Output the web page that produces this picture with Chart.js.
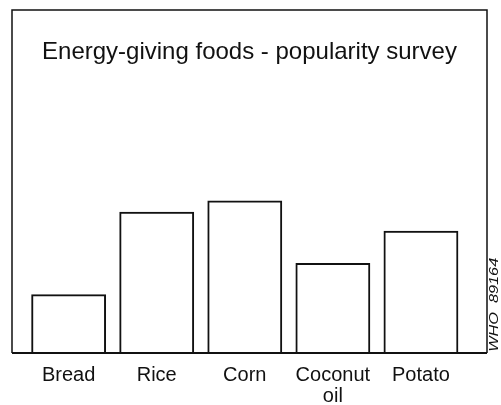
<!DOCTYPE html>
<html>
<head>
<meta charset="utf-8">
<script src="https://cdn.jsdelivr.net/npm/chart.js@4/dist/chart.umd.min.js"></script>
<style>
  html, body { margin: 0; padding: 0; background: #fff; }
  #wrap { width: 501px; height: 405px; }
</style>
</head>
<body>
<div id="wrap"><canvas id="myChart"></canvas></div>
<script>
const CATEGORIES = ['Bread', 'Rice', 'Corn', ['Coconut', 'oil'], 'Potato'];
const POSITIONS = [1, 2, 3, 4, 5];
const POPULARITY = [23.3, 56, 60.5, 35.7, 48.5];
const TITLE = 'Energy-giving foods - popularity survey';
const CODE = 'WHO  89164';

// box round the plot and the title, plus the small code on the right
const FRAME = {
    id: 'frame',
    afterDraw(chart)
    {
        const ctx = chart.ctx;
        const a = chart.chartArea;
        ctx.save();
        ctx.strokeStyle = '#111';
        ctx.lineWidth = 1.5;
        ctx.beginPath();
        ctx.moveTo(a.left, a.bottom);
        ctx.lineTo(a.left, 10);
        ctx.lineTo(a.right, 10);
        ctx.lineTo(a.right, a.bottom);
        ctx.stroke();
        ctx.lineWidth = 2;
        ctx.beginPath();
        ctx.moveTo(a.left, a.bottom);
        ctx.lineTo(a.right, a.bottom);
        ctx.stroke();

        ctx.translate(a.right + 7, a.bottom);
        ctx.rotate(-Math.PI / 2);
        ctx.scale(1.25, 1);
        ctx.fillStyle = '#111';
        ctx.font = 'italic 13px "Liberation Sans"';
        ctx.textBaseline = 'middle';
        ctx.textAlign = 'left';
        ctx.fillText(CODE, 1, 0);
        ctx.restore();
    }
};

const CONTEXT = document.getElementById('myChart').getContext('2d');
new Chart(CONTEXT,
{
    type: 'bar',
    data:
    {
        datasets:
        [{
            data: POSITIONS.map((p, i) => ({ x: p, y: POPULARITY[i] })),
            backgroundColor: 'rgba(255, 255, 255, 0)',
            borderColor: '#111',
            borderWidth: 2,
            categoryPercentage: 1,
            barPercentage: 0.85
        }]
    },
    plugins: [FRAME],
    options:
    {
        responsive: true,
        maintainAspectRatio: false,
        animation: false,
        layout: { padding: { left: 12, right: 14, top: 0, bottom: -14 } },
        plugins:
        {
            legend: { display: false },
            tooltip: { enabled: false },
            title:
            {
                display: true,
                text: TITLE,
                color: '#111',
                font: { family: '"Liberation Sans", Arial, sans-serif', size: 24, weight: 'normal', lineHeight: 1.2 },
                padding: { top: 38, bottom: 34 }
            }
        },
        scales:
        {
            x:
            {
                type: 'linear',
                offset: false,
                min: 0.357,
                max: 5.75,
                grid: { display: false, drawTicks: false },
                border: { display: false },
                afterBuildTicks: s => { s.ticks = s.ticks.filter(t => Number.isInteger(t.value)); },
                ticks:
                {
                    stepSize: 1,
                    includeBounds: false,
                    autoSkip: false,
                    maxRotation: 0,
                    padding: 12,
                    color: '#111',
                    font: { family: '"Liberation Sans", Arial, sans-serif', size: 20, lineHeight: 1.05 },
                    callback: v => CATEGORIES[v - 1] ?? ''
                }
            },
            y:
            {
                display: false,
                min: 0,
                max: 100
            }
        }
    }
});
</script>
</body>
</html>
